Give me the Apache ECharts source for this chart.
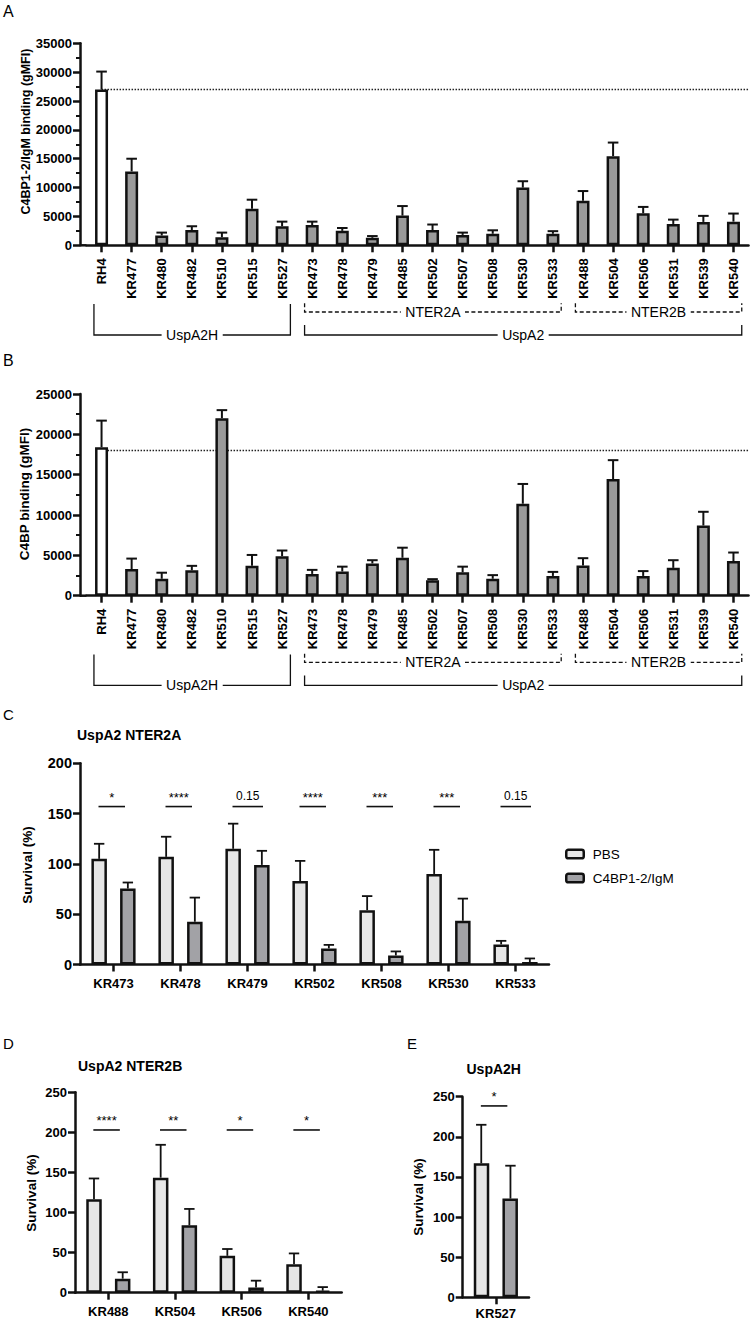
<!DOCTYPE html>
<html>
<head>
<meta charset="utf-8">
<script src="https://cdn.jsdelivr.net/npm/echarts@6/dist/echarts.min.js"></script>
<style>html,body{margin:0;padding:0;background:#fff}#c{width:752px;height:1322px}</style>
</head>
<body>
<div id="c"></div>
<script>
// ---------- DATA ----------
const strainsAB = ['RH4','KR477','KR480','KR482','KR510','KR515','KR527','KR473','KR478','KR479','KR485','KR502','KR507','KR508','KR530','KR533','KR488','KR504','KR506','KR531','KR539','KR540'];
const igmBinding   = [27000,12800,1700,2650,1400,6350,3300,3500,2500,1300,5150,2650,1800,2000,10000,2000,7700,15450,5550,3700,4050,4100];
const igmBindingSD = [3100,2200,500,650,800,1550,800,600,500,300,1650,950,400,600,1100,450,1700,2350,1100,750,1050,1400];
const c4bpBinding   = [18400,3300,2100,3150,22000,3700,4900,2700,3000,4000,4700,1900,2900,2100,11400,2450,3750,14450,2450,3450,8700,4300];
const c4bpBindingSD = [3300,1300,750,550,1000,1350,700,500,600,400,1250,150,700,450,2450,500,900,2350,600,950,1700,1050];
const thresholdA = 27000;
const thresholdB = 18000;
const groups = [
  {label:'UspA2H', from:'RH4', to:'KR527', kind:'outer'},
  {label:'NTER2A', from:'KR473', to:'KR533', kind:'inner'},
  {label:'NTER2B', from:'KR488', to:'KR540', kind:'inner'},
  {label:'UspA2', from:'KR473', to:'KR540', kind:'outer'}
];

const strainsC = ['KR473','KR478','KR479','KR502','KR508','KR530','KR533'];
const pbsC    = [105,107,115,83,54,90,20];
const pbsCsd  = [15,20,25,20,14,24,3.5];
const igmC    = [75.5,42.5,99,16,9,43.5,2.5];
const igmCsd  = [6,24,14,3.5,4,22,3.5];
const sigC    = ['*','****','0.15','****','***','***','0.15'];

const strainsD = ['KR488','KR504','KR506','KR540'];
const pbsD    = [116.5,143.5,46,35.5];
const pbsDsd  = [26,41,8.5,13.5];
const igmD    = [17.5,84,6.5,2.5];
const igmDsd  = [8,20.5,8.5,4.5];
const sigD    = ['****','**','*','*'];

const strainsE = ['KR527'];
const pbsE    = [167];
const pbsEsd  = [48];
const igmE    = [123];
const igmEsd  = [41];
const sigE    = ['*'];

// ---------- STYLE ----------
const FONT = '"Liberation Sans", Arial, Helvetica, sans-serif';
const INK = '#111';
const GRAY_AB = '#9a9a9a';
const PBS_COLOR = '#e6e6e6';
const IGM_COLOR = '#a2a2a6';
const axisLine = {show:true, onZero:false, lineStyle:{color:INK, width:2.5}};

const chart = echarts.init(document.getElementById('c'), null, {renderer:'svg', width:752, height:1322});

function errSeries(xi, yi, vals, sds, offset, capHalf, lw) {
  return {
    type:'custom', xAxisIndex:xi, yAxisIndex:yi, z:4, silent:true,
    data: vals.map((v,i)=>[i, v, v + sds[i]]),
    encode:{x:0, y:[1,2]},
    renderItem:function(params, api){
      const i = api.value(0);
      const p0 = api.coord([i, api.value(1)]);
      const p1 = api.coord([i, api.value(2)]);
      const x = p0[0] + offset;
      return {type:'group', children:[
        {type:'line', shape:{x1:x, y1:p0[1], x2:x, y2:p1[1]}, style:{stroke:INK, lineWidth:lw}},
        {type:'line', shape:{x1:x-capHalf, y1:p1[1], x2:x+capHalf, y2:p1[1]}, style:{stroke:INK, lineWidth:lw}}
      ]};
    }
  };
}

function sigSeries(xi, yi, labels, level) {
  return {
    type:'custom', xAxisIndex:xi, yAxisIndex:yi, z:5, silent:true,
    data: labels.map((s,i)=>[i, level]),
    encode:{x:0, y:1},
    renderItem:function(params, api){
      const lab = labels[params.dataIndex];
      const p = api.coord([api.value(0), api.value(1)]);
      const numeric = /[0-9]/.test(lab);
      const x1 = p[0] - 15, x2 = p[0] + (numeric ? 15.5 : 11.5);
      const cx = (x1 + x2) / 2;
      return {type:'group', children:[
        {type:'line', shape:{x1:x1, y1:p[1], x2:x2, y2:p[1]}, style:{stroke:INK, lineWidth:1.6}},
        {type:'text', style:{text:lab, x:cx, y: numeric ? p[1]-11 : p[1]-9, textAlign:'center', textVerticalAlign:'middle',
          font: (numeric ? '12px ' : '13px ') + FONT, fill:'#000'}}
      ]};
    }
  };
}

function catAxis(grid, data, opts) {
  return Object.assign({
    type:'category', gridIndex:grid, data:data, axisLine:axisLine,
    axisTick:{show:true, alignWithLabel:true, length:7, lineStyle:{color:INK, width:2.5}},
    axisLabel:{interval:0, color:'#000', fontFamily:FONT, fontWeight:'bold', fontSize:13, margin:12},
    splitLine:{show:false}
  }, opts || {});
}
function valAxis(grid, max, interval, fontSize, opts) {
  return Object.assign({
    type:'value', gridIndex:grid, min:0, max:max, interval:interval,
    axisLine:axisLine,
    axisTick:{show:true, length:7, lineStyle:{color:INK, width:2.5}},
    axisLabel:{color:'#000', fontFamily:FONT, fontWeight:'bold', fontSize:fontSize, margin:8, formatter:(v)=>String(v)},
    splitLine:{show:false}
  }, opts || {});
}
const minorAB = {show:true, splitNumber:2, length:4, lineStyle:{color:INK, width:2}};

const barAB = {barWidth:13, itemStyle:{borderColor:INK, borderWidth:2.5}};

const option = {
  animation:false,
  backgroundColor:'#fff',
  textStyle:{fontFamily:FONT},
  grid:[
    {left:86.5, top:43.3, width:662, height:202, outerBoundsMode:'none'},
    {left:86.5, top:394, width:662, height:201.7, outerBoundsMode:'none'},
    {left:80, top:763.3, width:469, height:201.2, outerBoundsMode:'none'},
    {left:75, top:1092.3, width:266.7, height:200.4, outerBoundsMode:'none'},
    {left:462.7, top:1096.7, width:66.3, height:200.6, outerBoundsMode:'none'}
  ],
  title:[
    {text:'A', left:3, top:3, padding:0, textStyle:{fontSize:16, fontWeight:'normal', color:'#000', fontFamily:FONT}},
    {text:'B', left:3, top:352, padding:0, textStyle:{fontSize:16, fontWeight:'normal', color:'#000', fontFamily:FONT}},
    {text:'C', left:3, top:707, padding:0, textStyle:{fontSize:15, fontWeight:'normal', color:'#000', fontFamily:FONT}},
    {text:'D', left:3, top:1036, padding:0, textStyle:{fontSize:15, fontWeight:'normal', color:'#000', fontFamily:FONT}},
    {text:'E', left:407, top:1036, padding:0, textStyle:{fontSize:15, fontWeight:'normal', color:'#000', fontFamily:FONT}},
    {text:'UspA2 NTER2A', left:77, top:728, padding:0, textStyle:{fontSize:14, fontWeight:'bold', color:'#000', fontFamily:FONT}},
    {text:'UspA2 NTER2B', left:78, top:1059, padding:0, textStyle:{fontSize:14, fontWeight:'bold', color:'#000', fontFamily:FONT}},
    {text:'UspA2H', left:466.5, top:1062, padding:0, textStyle:{fontSize:14, fontWeight:'bold', color:'#000', fontFamily:FONT}}
  ],
  legend:{
    data:['PBS','C4BP1-2/IgM'], orient:'vertical', left:560, top:842,
    itemWidth:17.5, itemHeight:8.5, itemGap:10, selectedMode:false,
    itemStyle:{borderColor:INK, borderWidth:2.5},
    textStyle:{fontSize:13.5, color:'#000', fontFamily:FONT, padding:[0,0,0,4]}
  },
  xAxis:[
    catAxis(0, strainsAB, {axisLabel:{interval:0, rotate:90, color:'#000', fontFamily:FONT, fontWeight:'bold', fontSize:13, margin:13}}),
    catAxis(1, strainsAB, {axisLabel:{interval:0, rotate:90, color:'#000', fontFamily:FONT, fontWeight:'bold', fontSize:13, margin:13}}),
    catAxis(2, strainsC),
    catAxis(3, strainsD),
    catAxis(4, strainsE, {axisLabel:{interval:0, color:'#000', fontFamily:FONT, fontWeight:'bold', fontSize:13, margin:10}}),
    {type:'value', gridIndex:0, min:0, max:1, show:false},
    {type:'value', gridIndex:1, min:0, max:1, show:false}
  ],
  yAxis:[
    valAxis(0, 35000, 5000, 13, {offset:6.5, minorTick:minorAB, minorSplitLine:{show:false}}),
    valAxis(1, 25000, 5000, 13, {offset:6.5, minorTick:minorAB, minorSplitLine:{show:false}}),
    valAxis(2, 200, 50, 14.5),
    valAxis(3, 250, 50, 13),
    valAxis(4, 250, 50, 13)
  ],
  series:[
    // Panel A
    {type:'line', xAxisIndex:5, yAxisIndex:0, silent:true, z:1, symbol:'none',
     data:[[0.5/strainsAB.length, thresholdA],[1, thresholdA]],
     lineStyle:{type:[1.5,1.5], width:1.5, color:'#222'}},
    Object.assign({type:'bar', name:'C4BP1-2/IgM binding', xAxisIndex:0, yAxisIndex:0, z:2, data:igmBinding}, barAB,
      {itemStyle:{borderColor:INK, borderWidth:2.5, color:(p)=>p.dataIndex===0?'#ffffff':GRAY_AB}}),
    errSeries(0, 0, igmBinding, igmBindingSD, 0, 5.3, 2),
    // Panel B
    {type:'line', xAxisIndex:6, yAxisIndex:1, silent:true, z:1, symbol:'none',
     data:[[0.5/strainsAB.length, thresholdB],[1, thresholdB]],
     lineStyle:{type:[1.5,1.5], width:1.5, color:'#222'}},
    Object.assign({type:'bar', name:'C4BP binding', xAxisIndex:1, yAxisIndex:1, z:2, data:c4bpBinding}, barAB,
      {itemStyle:{borderColor:INK, borderWidth:2.5, color:(p)=>p.dataIndex===0?'#ffffff':GRAY_AB}}),
    errSeries(1, 1, c4bpBinding, c4bpBindingSD, 0, 5.3, 2),
    // Panel C
    {type:'bar', name:'PBS', xAxisIndex:2, yAxisIndex:2, data:pbsC, barWidth:15.5, barGap:'85%', itemStyle:{color:PBS_COLOR, borderColor:INK, borderWidth:2.5}},
    {type:'bar', name:'C4BP1-2/IgM', xAxisIndex:2, yAxisIndex:2, data:igmC, barWidth:15.5, barGap:'85%', itemStyle:{color:IGM_COLOR, borderColor:INK, borderWidth:2.5}},
    errSeries(2, 2, pbsC, pbsCsd, -14.35, 5.2, 1.8),
    errSeries(2, 2, igmC, igmCsd, 14.35, 5.2, 1.8),
    sigSeries(2, 2, sigC, 157),
    // Panel D
    {type:'bar', name:'PBS', xAxisIndex:3, yAxisIndex:3, data:pbsD, barWidth:15.5, barGap:'85%', itemStyle:{color:PBS_COLOR, borderColor:INK, borderWidth:2.5}},
    {type:'bar', name:'C4BP1-2/IgM', xAxisIndex:3, yAxisIndex:3, data:igmD, barWidth:15.5, barGap:'85%', itemStyle:{color:IGM_COLOR, borderColor:INK, borderWidth:2.5}},
    errSeries(3, 3, pbsD, pbsDsd, -14.35, 5.2, 1.8),
    errSeries(3, 3, igmD, igmDsd, 14.35, 5.2, 1.8),
    sigSeries(3, 3, sigD, 203),
    // Panel E
    {type:'bar', name:'PBS', xAxisIndex:4, yAxisIndex:4, data:pbsE, barWidth:15.5, barGap:'85%', itemStyle:{color:PBS_COLOR, borderColor:INK, borderWidth:2.5}},
    {type:'bar', name:'C4BP1-2/IgM', xAxisIndex:4, yAxisIndex:4, data:igmE, barWidth:15.5, barGap:'85%', itemStyle:{color:IGM_COLOR, borderColor:INK, borderWidth:2.5}},
    errSeries(4, 4, pbsE, pbsEsd, -14.6, 5.2, 1.8),
    errSeries(4, 4, igmE, igmEsd, 14.6, 5.2, 1.8),
    sigSeries(4, 4, sigE, 238.5)
  ]
};
chart.setOption(option);

// ---------- annotations: y titles, group brackets ----------
const yTitles = [
  {text:'C4BP1-2/IgM binding (gMFI)', x:25.8, y:131.6, size:12.5},
  {text:'C4BP binding (gMFI)', x:24, y:494, size:13.5},
  {text:'Survival (%)', x:27.5, y:865, size:13.5},
  {text:'Survival (%)', x:31, y:1193, size:13.5},
  {text:'Survival (%)', x:418, y:1197, size:13.5}
];
const g = [];
yTitles.forEach(t => g.push({type:'text', x:t.x, y:t.y, rotation:Math.PI/2, z:10,
  style:{text:t.text, x:0, y:0, textAlign:'center', textVerticalAlign:'middle', font:'bold ' + t.size + 'px ' + FONT, fill:'#000'}}));

const measure = document.createElement('canvas').getContext('2d');
const LABEL_FONT = '14px ' + FONT;
measure.font = LABEL_FONT;

function addBrackets(axisIndex, yAxisIndex) {
  const y0 = chart.convertToPixel({yAxisIndex:yAxisIndex}, 0);
  const px = n => chart.convertToPixel({xAxisIndex:axisIndex}, n);
  const idx = n => strainsAB.indexOf(n);
  const gl = option.grid[axisIndex].left;
  g.push({type:'line', shape:{x1:gl-6.5, y1:y0, x2:gl, y2:y0}, style:{stroke:INK, lineWidth:2.5}, z:10});
  groups.forEach(gr => {
    const L = px(gr.from) - 7.6, R = px(gr.to) + 8.3;
    let yt, yl, dash = null;
    if (gr.kind === 'inner') { yt = y0 + 58; yl = y0 + 66.7; dash = [4, 2.5]; }
    else {
      const containsInner = groups.some(h => h.kind === 'inner' && idx(h.from) >= idx(gr.from) && idx(h.to) <= idx(gr.to));
      yl = y0 + 89.7; yt = containsInner ? y0 + 79.7 : y0 + 58.7;
    }
    g.push({type:'polyline', z:10, shape:{points:[[L,yt],[L,yl],[R,yl],[R,yt]]},
      style:{stroke:INK, lineWidth:1.3, fill:null, lineDash:dash}});
    const w = measure.measureText(gr.label).width + 9;
    const cx = (L + R) / 2;
    g.push({type:'rect', z:11, shape:{x:cx - w/2, y:yl - 4, width:w, height:8}, style:{fill:'#fff'}});
    g.push({type:'text', z:12, style:{text:gr.label, x:cx, y:yl, textAlign:'center', textVerticalAlign:'middle', font:LABEL_FONT, fill:'#000'}});
  });
}
addBrackets(0, 0);
addBrackets(1, 1);
chart.setOption({graphic:{elements:g}});
</script>
</body>
</html>
